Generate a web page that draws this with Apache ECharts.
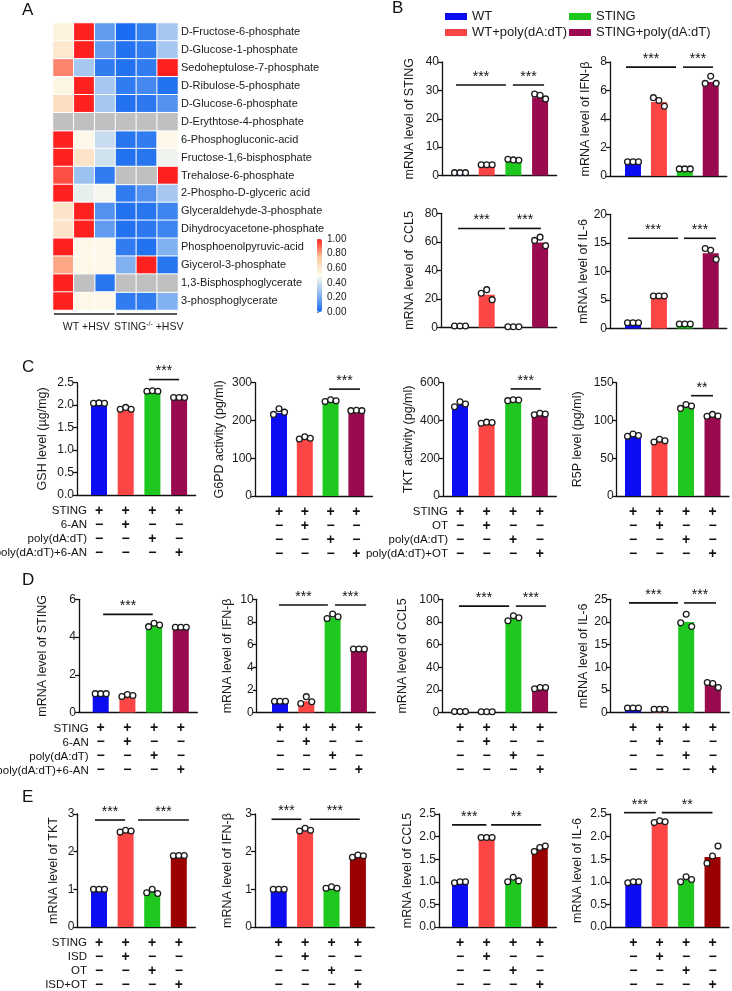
<!DOCTYPE html>
<html>
<head>
<meta charset="utf-8">
<script src="https://cdn.jsdelivr.net/npm/echarts@6/dist/echarts.min.js"></script>
<style>html,body{margin:0;background:#fff}#main{width:732px;height:991px}</style>
</head>
<body>
<div id="main"></div>
<script>
const FONT = '"Liberation Sans", Arial, sans-serif';

// ---- A: heatmap data (null = not detected, gray)
const metabolites = ['D-Fructose-6-phosphate', 'D-Glucose-1-phosphate', 'Sedoheptulose-7-phosphate',
  'D-Ribulose-5-phosphate', 'D-Glucose-6-phosphate', 'D-Erythtose-4-phosphate', '6-Phosphogluconic-acid',
  'Fructose-1,6-bisphosphate', 'Trehalose-6-phosphate', '2-Phospho-D-glyceric acid',
  'Glyceraldehyde-3-phosphate', 'Dihydrocyacetone-phosphate', 'Phosphoenolpyruvic-acid',
  'Giycerol-3-phosphate', '1,3-Bisphosphoglycerate', '3-phosphoglycerate'];
const heatCols = ['WT1', 'WT2', 'WT3', 'KO1', 'KO2', 'KO3'];
const heatRows = [
  [0.55, 1.0, 0.15, 0.0, 0.06, 0.3],
  [0.6, 1.0, 0.15, 0.02, 0.05, 0.3],
  [0.85, 0.3, 0.05, 0.02, 0.05, 1.0],
  [0.53, 1.0, 0.3, 0.05, 0.09, 0.02],
  [0.65, 1.0, 0.3, 0.02, 0.04, 0.12],
  [null, null, null, null, null, null],
  [1.0, 0.52, 0.38, 0.03, 0.05, 0.52],
  [1.0, 0.62, 0.4, 0.02, 0.03, 0.47],
  [0.93, 0.28, 0.05, null, null, 1.0],
  [1.0, 0.45, 0.48, 0.05, 0.12, 0.3],
  [0.62, 1.0, 0.12, 0.02, 0.03, 0.08],
  [0.62, 1.0, 0.15, 0.02, 0.04, 0.08],
  [1.0, 0.52, 0.52, 0.05, 0.02, 0.22],
  [0.8, 0.52, 0.52, 0.22, 1.0, 0.03],
  [1.0, null, 0.03, null, null, null],
  [1.0, 0.52, 0.52, 0.05, 0.05, 0.22]
];
const heatGroups = [[0, 2, 'WT'], [3, 5, 'STING']];

// ---- groups / colours
const groupsB = ['WT', 'WT+poly(dA:dT)', 'STING', 'STING+poly(dA:dT)'];
const colB = ['#0c0cf0', '#fc4646', '#1ec81e', '#9a0a4e'];
const colE = ['#0c0cf0', '#fc4646', '#1ec81e', '#9b0000'];
const signRows = ['++++', '-+--', '--+-', '---+'];
const rowsAN = ['STING', '6-AN', 'poly(dA:dT)', 'poly(dA:dT)+6-AN'];
const rowsOT = ['STING', 'OT', 'poly(dA:dT)', 'poly(dA:dT)+OT'];
const rowsISD = ['STING', 'ISD', 'OT', 'ISD+OT'];

// ---- B
const bSting = [0.9, 3.7, 5.5, 27.6];
const bStingDots = [[1, 1, 1], [3.8, 3.8, 3.8], [5.7, 5.5, 5.4], [28.7, 28.3, 27.0]];
const bStingSig = [[-0.15, 1.72, 31.9, '***'], [1.98, 3.15, 31.9, '***']];
const bIfn = [0.95, 5.2, 0.5, 6.6];
const bIfnDots = [[1, 1, 1], [5.5, 5.3, 4.9], [0.5, 0.5, 0.5], [6.5, 7.0, 6.5]];
const bIfnSig = [[-0.27, 1.66, 7.64, '***'], [1.93, 3.09, 7.64, '***']];
const bCcl5 = [0.6, 23, 0.3, 59.5];
const bCcl5Dots = [[1, 1, 1], [24, 26.5, 19.5], [0.5, 0.5, 0.5], [61, 63.3, 57.2]];
const bCcl5Sig = [[-0.07, 1.69, 69.4, '***'], [1.84, 3.03, 69.4, '***']];
const bIl6 = [0.9, 5.7, 0.7, 13.2];
const bIl6Dots = [[1, 1, 1], [5.7, 5.7, 5.7], [0.8, 0.8, 0.8], [14.0, 13.7, 12.1]];
const bIl6Sig = [[-0.19, 1.74, 15.8, '***'], [1.97, 3.2, 15.8, '***']];

// ---- C
const cGsh = [2.03, 1.92, 2.31, 2.17];
const cGshDots = [[2.04, 2.05, 2.04], [1.91, 1.95, 1.91], [2.31, 2.32, 2.31], [2.17, 2.17, 2.17]];
const cGshSig = [[1.87, 3.0, 2.57, '***']];
const cG6pd = [220, 152, 251, 226];
const cG6pdDots = [[216, 231, 222], [151, 157, 153], [250, 255, 252], [226, 227, 226]];
const cG6pdSig = [[1.94, 3.14, 283, '***']];
const cTkt = [482, 388, 506, 433];
const cTktDots = [[473, 499, 487], [385, 391, 389], [505, 510, 508], [430, 438, 434]];
const cTktSig = [[1.9, 3.04, 567, '***']];
const cR5p = [80, 72.5, 118, 106];
const cR5pDots = [[79, 82, 80], [71.5, 75, 73], [116, 121, 119], [105.5, 108, 106]];
const cR5pSig = [[2.19, 3.02, 132.8, '**']];

// ---- D
const dSting = [0.96, 0.84, 4.6, 4.5];
const dStingDots = [[1, 1, 1], [0.85, 0.95, 0.9], [4.55, 4.73, 4.64], [4.52, 4.52, 4.52]];
const dStingSig = [[0.09, 1.95, 5.2, '***']];
const dIfn = [0.9, 1.0, 8.4, 5.6];
const dIfnDots = [[1, 1, 1], [0.8, 1.4, 0.95], [8.3, 8.7, 8.46], [5.6, 5.6, 5.6]];
const dIfnSig = [[-0.04, 1.82, 9.5, '***'], [2.09, 3.27, 9.5, '***']];
const dCcl5 = [0.8, 0.5, 83, 21];
const dCcl5Dots = [[0.8, 0.8, 0.8], [0.6, 0.6, 0.6], [81, 85.5, 83.7], [21, 22, 22]];
const dCcl5Sig = [[-0.04, 1.84, 94, '***'], [2.09, 3.22, 94, '***']];
const dIl6 = [0.9, 0.6, 20, 6.1];
const dIl6Dots = [[1.0, 1.0, 1.0], [0.7, 0.7, 0.7], [19.8, 21.7, 19.0], [6.6, 6.4, 5.5]];
const dIl6Sig = [[-0.15, 1.69, 24.2, '***'], [1.92, 3.12, 24.2, '***']];

// ---- E
const eTkt = [1.0, 2.53, 0.93, 1.89];
const eTktDots = [[1, 1, 1], [2.52, 2.57, 2.55], [0.91, 1.0, 0.89], [1.89, 1.9, 1.9]];
const eTktSig = [[-0.15, 0.98, 2.84, '***'], [1.47, 3.38, 2.84, '***']];
const eIfn = [1.0, 2.58, 1.03, 1.88];
const eIfnDots = [[1, 1, 1], [2.55, 2.62, 2.57], [1.03, 1.07, 1.03], [1.85, 1.91, 1.89]];
const eIfnSig = [[-0.27, 0.86, 2.86, '***'], [1.18, 3.07, 2.86, '***']];
const eCcl5 = [0.99, 1.98, 1.04, 1.73];
const eCcl5Dots = [[0.98, 1.0, 1.0], [1.98, 1.98, 1.98], [1.0, 1.1, 1.02], [1.67, 1.76, 1.79]];
const eCcl5Sig = [[-0.3, 0.99, 2.26, '***'], [1.17, 3.05, 2.26, '**']];
const eIl6 = [0.99, 2.3, 1.04, 1.55];
const eIl6Dots = [[0.98, 1.0, 1.0], [2.31, 2.35, 2.33], [1.0, 1.11, 1.05], [1.41, 1.57, 1.79]];
const eIl6Sig = [[-0.35, 0.85, 2.53, '***'], [1.08, 3.0, 2.53, '**']];

const grids = [], xAxes = [], yAxes = [], series = [];

function addBarChart(c) {
  const gi = grids.length;
  const min = -(c.firstC - c.axisX) / c.step;
  const max = 3.62;
  grids.push({left: c.axisX, top: c.top, width: (max - min) * c.step, height: c.bottom - c.top});
  xAxes.push({gridIndex: gi, type: 'value', min: min, max: max,
    axisLine: {onZero: false, lineStyle: {color: '#111', width: 1.3}},
    axisTick: {show: false}, axisLabel: {show: false}, splitLine: {show: false}});
  yAxes.push({gridIndex: gi, type: 'value', min: 0, max: c.yMax, interval: c.yInt,
    name: c.name, nameLocation: 'middle', nameGap: c.axisX - c.nameX - 6,
    nameTextStyle: {fontSize: 12.5, color: '#1a1a1a'},
    axisLine: {show: true, onZero: false, lineStyle: {color: '#111', width: 1.3}},
    axisTick: {show: true, length: 4, lineStyle: {color: '#111', width: 1.3}},
    axisLabel: {fontSize: 12, color: '#1a1a1a', margin: 3, formatter: v => v.toFixed(c.dec)},
    splitLine: {show: false}});
  series.push({type: 'bar', xAxisIndex: gi, yAxisIndex: gi, barWidth: 16, silent: true,
    data: c.means.map((v, i) => ({value: [i, v], itemStyle: {color: c.colors[i]}}))});
  // individual points
  series.push({type: 'custom', xAxisIndex: gi, yAxisIndex: gi, clip: false, silent: true, z: 3,
    data: c.dots.map((d, i) => [i, d[0], d[1], d[2]]),
    renderItem: function (params, api) {
      const kids = [];
      for (let k = 0; k < 3; k++) {
        const p = api.coord([api.value(0), api.value(k + 1)]);
        kids.push({type: 'circle', shape: {cx: p[0] + (k - 1) * 5.5, cy: p[1], r: 2.9},
          style: {fill: '#fff', stroke: '#1a1a1a', lineWidth: 1.3}});
      }
      return {type: 'group', children: kids};
    }});
  // significance bars
  series.push({type: 'custom', xAxisIndex: gi, yAxisIndex: gi, clip: false, silent: true, z: 3,
    data: c.sig.map(s => [s[0], s[2], s[1]]),
    renderItem: function (params, api) {
      const a = api.coord([api.value(0), api.value(1)]);
      const b = api.coord([api.value(2), api.value(1)]);
      return {type: 'group', children: [
        {type: 'line', shape: {x1: a[0], y1: a[1], x2: b[0], y2: a[1]}, style: {stroke: '#111', lineWidth: 1.6}},
        {type: 'text', style: {text: c.sig[params.dataIndex][3], x: (a[0] + b[0]) / 2, y: a[1] - 1,
          align: 'center', verticalAlign: 'bottom', fontSize: 14, fontFamily: FONT, fill: '#111'}}
      ]};
    }});
  // treatment table under the axis
  if (c.signs) {
    series.push({type: 'custom', xAxisIndex: gi, yAxisIndex: gi, clip: false, silent: true,
      data: [0, 1, 2, 3].map(i => [i, 0]),
      renderItem: function (params, api) {
        const i = api.value(0);
        const p = api.coord([i, 0]);
        const kids = [];
        c.signs.forEach((row, r) => {
          const y = p[1] + 16 + 14 * r;
          kids.push({type: 'text', style: {text: row[i] === '+' ? '+' : '\u2212', x: p[0], y: y,
            align: 'center', verticalAlign: 'middle', fontSize: 14, fontWeight: 'bold', fontFamily: FONT, fill: '#111'}});
          if (i === 0 && c.rows) {
            kids.push({type: 'text', style: {text: c.rows[r], x: p[0] - 12, y: y,
              align: 'right', verticalAlign: 'middle', fontSize: 11.5, fontFamily: FONT, fill: '#111'}});
          }
        });
        return {type: 'group', children: kids};
      }});
  }
}

// ---- heatmap grid
const hg = grids.length;
grids.push({left: 53, top: 23, width: 125, height: 287});
xAxes.push({gridIndex: hg, type: 'category', data: heatCols, show: false});
yAxes.push({gridIndex: hg, type: 'category', data: metabolites, inverse: true, position: 'right',
  axisLine: {show: false}, axisTick: {show: false},
  axisLabel: {fontSize: 11, color: '#1a1a1a', margin: 3}});
const heatData = [], missData = [];
heatRows.forEach((row, r) => row.forEach((v, ci) => {
  if (v === null) missData.push([ci, r, 0]); else heatData.push([ci, r, v]);
}));
const heatIdx = series.length;
series.push({type: 'heatmap', xAxisIndex: hg, yAxisIndex: hg, data: heatData, silent: true,
  itemStyle: {borderColor: '#fff', borderWidth: 1}});
series.push({type: 'heatmap', xAxisIndex: hg, yAxisIndex: hg, data: missData, silent: true,
  itemStyle: {color: '#c0c0c0', borderColor: '#fff', borderWidth: 1}});
series.push({type: 'custom', xAxisIndex: hg, yAxisIndex: hg, clip: false, silent: true,
  data: heatGroups.map(g => [g[0], 15, g[1]]),
  renderItem: function (params, api) {
    const a = api.coord([api.value(0), api.value(1)]);
    const b = api.coord([api.value(2), api.value(1)]);
    const sz = api.size([1, 1]);
    const x1 = a[0] - sz[0] / 2 + 1, x2 = b[0] + sz[0] / 2 - 1, y = a[1] + sz[1] / 2 + 4;
    const g = heatGroups[params.dataIndex][2];
    const txt = g === 'WT' ? '{a|WT +HSV}' : '{a|STING}{s|-/-}{a| +HSV}';
    return {type: 'group', children: [
      {type: 'line', shape: {x1: x1, y1: y, x2: x2, y2: y}, style: {stroke: '#222', lineWidth: 1.5}},
      {type: 'text', style: {text: txt, x: (x1 + x2) / 2 + 2, y: y + 13, align: 'center', verticalAlign: 'middle',
        rich: {a: {fontSize: 10.5, fontFamily: FONT, fill: '#1a1a1a'},
               s: {fontSize: 7, fontFamily: FONT, fill: '#1a1a1a', padding: [0, 0, 6, 0]}}}}
    ]};
  }});

// ---- colour bar tick labels
const cg = grids.length;
grids.push({left: 317, top: 239, width: 5, height: 73});
xAxes.push({gridIndex: cg, type: 'value', show: false});
yAxes.push({gridIndex: cg, type: 'value', min: 0, max: 1, interval: 0.2, position: 'right',
  axisLine: {show: false}, splitLine: {show: false},
  axisTick: {show: true, length: 2, lineStyle: {color: '#888'}},
  axisLabel: {fontSize: 10, color: '#1a1a1a', margin: 5, formatter: v => v.toFixed(2)}});
groupsB.forEach((n, i) => series.push({type: 'bar', name: n, xAxisIndex: cg, yAxisIndex: cg, data: [],
  itemStyle: {color: colB[i]}}));

// ---- B
addBarChart({axisX: 442, top: 62, bottom: 175.5, firstC: 460, step: 26.7, yMax: 40, yInt: 10, dec: 0,
  name: 'mRNA level of STING', nameX: 410, means: bSting, dots: bStingDots, sig: bStingSig, colors: colB});
addBarChart({axisX: 610, top: 62, bottom: 176, firstC: 633, step: 25.9, yMax: 8, yInt: 2, dec: 0,
  name: 'mRNA level of IFN-\u03b2', nameX: 586, means: bIfn, dots: bIfnDots, sig: bIfnSig, colors: colB});
addBarChart({axisX: 441, top: 213.3, bottom: 327.5, firstC: 460, step: 26.7, yMax: 80, yInt: 20, dec: 0,
  name: 'mRNA level of  CCL5', nameX: 410, means: bCcl5, dots: bCcl5Dots, sig: bCcl5Sig, colors: colB});
addBarChart({axisX: 610, top: 214.3, bottom: 328.5, firstC: 633, step: 25.9, yMax: 20, yInt: 5, dec: 0,
  name: 'mRNA level of IL-6', nameX: 587, means: bIl6, dots: bIl6Dots, sig: bIl6Sig, colors: colB});

// ---- C
addBarChart({axisX: 77, top: 382.7, bottom: 495, firstC: 99, step: 26.7, yMax: 2.5, yInt: 0.5, dec: 1,
  name: 'GSH level (\u00b5g/mg)', nameX: 43, means: cGsh, dots: cGshDots, sig: cGshSig, colors: colB,
  signs: signRows, rows: rowsAN});
addBarChart({axisX: 255, top: 382.7, bottom: 496, firstC: 279, step: 25.8, yMax: 300, yInt: 100, dec: 0,
  name: 'G6PD activity (pg/ml)', nameX: 220, means: cG6pd, dots: cG6pdDots, sig: cG6pdSig, colors: colB,
  signs: signRows});
addBarChart({axisX: 443, top: 382.7, bottom: 496, firstC: 460, step: 26.6, yMax: 600, yInt: 200, dec: 0,
  name: 'TKT activity (pg/ml)', nameX: 409, means: cTkt, dots: cTktDots, sig: cTktSig, colors: colB,
  signs: signRows, rows: rowsOT});
addBarChart({axisX: 616.7, top: 382.7, bottom: 496, firstC: 633, step: 26.5, yMax: 150, yInt: 50, dec: 0,
  name: 'R5P level (pg/ml)', nameX: 578, means: cR5p, dots: cR5pDots, sig: cR5pSig, colors: colB,
  signs: signRows});

// ---- D
addBarChart({axisX: 79, top: 599.3, bottom: 712.5, firstC: 100.7, step: 26.7, yMax: 6, yInt: 2, dec: 0,
  name: 'mRNA level of STING', nameX: 43, means: dSting, dots: dStingDots, sig: dStingSig, colors: colB,
  signs: signRows, rows: rowsAN});
addBarChart({axisX: 256.7, top: 599.3, bottom: 712.5, firstC: 280, step: 26.3, yMax: 10, yInt: 2, dec: 0,
  name: 'mRNA level of IFN-\u03b2', nameX: 228, means: dIfn, dots: dIfnDots, sig: dIfnSig, colors: colB,
  signs: signRows});
addBarChart({axisX: 442.3, top: 599.3, bottom: 712.5, firstC: 460, step: 26.7, yMax: 100, yInt: 20, dec: 0,
  name: 'mRNA level of CCL5', nameX: 403, means: dCcl5, dots: dCcl5Dots, sig: dCcl5Sig, colors: colB,
  signs: signRows});
addBarChart({axisX: 610.7, top: 599.3, bottom: 712.5, firstC: 633, step: 26.6, yMax: 25, yInt: 5, dec: 0,
  name: 'mRNA level of IL-6', nameX: 585, means: dIl6, dots: dIl6Dots, sig: dIl6Sig, colors: colB,
  signs: signRows});

// ---- E
addBarChart({axisX: 77.3, top: 814, bottom: 927, firstC: 99, step: 26.6, yMax: 3, yInt: 1, dec: 0,
  name: 'mRNA level of TKT', nameX: 54, means: eTkt, dots: eTktDots, sig: eTktSig, colors: colE,
  signs: signRows, rows: rowsISD});
addBarChart({axisX: 255, top: 814, bottom: 927, firstC: 278.7, step: 26.4, yMax: 3, yInt: 1, dec: 0,
  name: 'mRNA level of IFN-\u03b2', nameX: 228, means: eIfn, dots: eIfnDots, sig: eIfnSig, colors: colE,
  signs: signRows});
addBarChart({axisX: 439, top: 814, bottom: 927, firstC: 460, step: 26.6, yMax: 2.5, yInt: 0.5, dec: 1,
  name: 'mRNA level of CCL5', nameX: 408, means: eCcl5, dots: eCcl5Dots, sig: eCcl5Sig, colors: colE,
  signs: signRows});
addBarChart({axisX: 610, top: 814, bottom: 927, firstC: 633.3, step: 26.4, yMax: 2.5, yInt: 0.5, dec: 1,
  name: 'mRNA level of IL-6', nameX: 578, means: eIl6, dots: eIl6Dots, sig: eIl6Sig, colors: colE,
  signs: signRows});

const chart = echarts.init(document.getElementById('main'), null, {renderer: 'canvas'});
const letter = (t, x, y) => ({type: 'text', left: x, top: y,
  style: {text: t, fontSize: 17, fontFamily: FONT, fill: '#111'}});

chart.setOption({
  animation: false,
  backgroundColor: '#fff',
  textStyle: {fontFamily: FONT},
  grid: grids,
  xAxis: xAxes,
  yAxis: yAxes,
  visualMap: {type: 'continuous', seriesIndex: heatIdx, min: 0, max: 1, calculable: false,
    left: 317, top: 239, itemWidth: 5, itemHeight: 73, padding: 0,
    inRange: {color: ['#1a6cf0', '#8fbaf0', '#fdfcee', '#fdc9a0', '#ff2020']}},
  legend: [
    {left: 440, top: 5, orient: 'vertical', icon: 'rect', itemWidth: 22, itemHeight: 7, itemGap: 3,
      selectedMode: false, data: ['WT', 'WT+poly(dA:dT)'], textStyle: {fontSize: 13, color: '#1a1a1a'}},
    {left: 564, top: 5, orient: 'vertical', icon: 'rect', itemWidth: 22, itemHeight: 7, itemGap: 3,
      selectedMode: false, data: ['STING', 'STING+poly(dA:dT)'], textStyle: {fontSize: 13, color: '#1a1a1a'}}
  ],
  graphic: [letter('A', 22, 2), letter('B', 392, 0), letter('C', 22, 359), letter('D', 22, 572), letter('E', 22, 789)],
  series: series
});
</script>
</body>
</html>
